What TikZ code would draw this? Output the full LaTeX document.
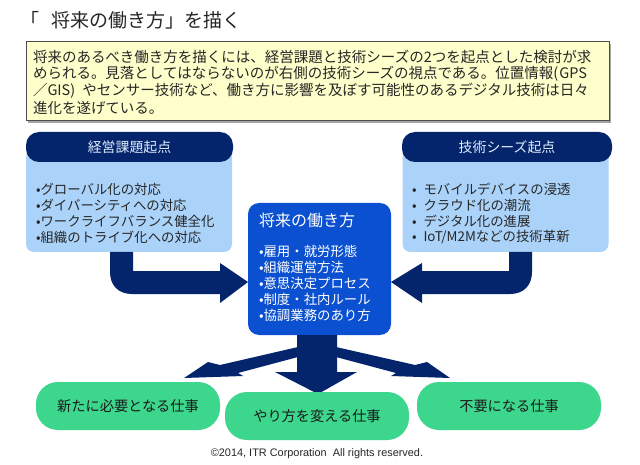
\documentclass[tikz,border=0pt]{standalone}
\usepackage{fontspec}
\setmainfont{Noto Sans CJK JP}
\newfontfamily\latinf{Liberation Sans}
\definecolor{navy}{HTML}{04246C}
\definecolor{lightb}{HTML}{ABD3FA}
\definecolor{midb}{HTML}{0A50D0}
\definecolor{pill}{HTML}{3CD68C}
\definecolor{note}{HTML}{FFFFCC}
\definecolor{ink}{HTML}{262626}
\newcommand{\fs}[1]{\fontsize{#1}{#1}\selectfont}
\tikzset{
  base/.style={inner sep=0pt,outer sep=0pt},
  txt/.style={base,anchor=west,text=ink,font=\fs{13.4}},
  wtxt/.style={txt,text=white},
  lightbox/.style={base,fill=lightb,rounded corners=8pt,minimum width=206pt,minimum height=102pt},
  headbox/.style={base,fill=navy,rounded corners=13pt,minimum height=30pt,text=lightb!40!white,font=\fs{13.9}},
  pillbox/.style={base,fill=pill,rounded corners=22pt,minimum width=184pt,minimum height=48pt,text=ink!70!black,font=\fs{14.2}},
  blockarrow/.style={fill=navy,draw=none},
}
\begin{document}
\begin{tikzpicture}[x=1pt,y=-1pt]
\useasboundingbox (0,0) rectangle (640,465);
\fill[white] (0,0) rectangle (640,465);
% title
\node[base,anchor=west,text=ink,font=\fs{19}] (title) at (20,20) {「\hspace{13pt}将来の働き方」を描く};
% note
\fill[black!35] (28,44) rectangle (611,123);
\node[base,draw=black!70,line width=1pt,fill=note,minimum width=583pt,minimum height=79pt] (note) at (317.5,81.5) {};
\node[txt,font=\fs{14.5}] (n1) at (33,57) {将来のあるべき働き方を描くには、経営課題と技術シーズの2つを起点とした検討が求};
\node[txt,font=\fs{14.5}] (n2) at (33,73.5) {められる。見落としてはならないのが右側の技術シーズの視点である。位置情報(\hspace{1pt}GPS};
\node[txt,font=\fs{14.5}] (n3) at (33,91) {／GIS)\hspace{7pt}やセンサー技術など、働き方に影響を及ぼす可能性のあるデジタル技術は日々};
\node[txt,font=\fs{14.5}] (n4) at (33,108) {進化を遂げている。};
% left and right source boxes
\node[lightbox] (lb) at (129,201) {};
\node[lightbox] (rb) at (505.5,201) {};
\node[headbox,minimum width=207pt] (lh) at (129.5,147) {経営課題起点};
\node[headbox,minimum width=210pt] (rh) at (507,147) {技術シーズ起点};
\node[txt] (l1) at (36,189) {•グローバル化の対応};
\node[txt] (l2) at (36,205) {•ダイバーシティへの対応};
\node[txt] (l3) at (36,221) {•ワークライフバランス健全化};
\node[txt] (l4) at (36,237) {•組織のトライブ化への対応};
\node[txt] (r1) at (412,189) {•\hspace{7pt}モバイルデバイスの浸透};
\node[txt] (r2) at (412,205) {•\hspace{7pt}クラウド化の潮流};
\node[txt] (r3) at (412,221) {•\hspace{7pt}デジタル化の進展};
\node[txt] (r4) at (412,237) {•\hspace{7pt}IoT/M2Mなどの技術革新};
% centre box
\node[base,fill=midb,rounded corners=11pt,minimum width=143pt,minimum height=132pt] (c) at (319.5,269) {};
\node[wtxt,font=\fs{16}] (ct) at (259,220) {将来の働き方};
\node[wtxt] (c1) at (259,251) {•雇用・就労形態};
\node[wtxt] (c2) at (259,267) {•組織運営方法};
\node[wtxt] (c3) at (259,283) {•意思決定プロセス};
\node[wtxt] (c4) at (259,299) {•制度・社内ルール};
\node[wtxt] (c5) at (259,315) {•協調業務のあり方};
% block arrows
\coordinate (ltip) at (c.west|-0,282);
\coordinate (rtip) at (c.east|-0,282);
\fill[blockarrow] (110,252) -- (133,252) -- (133,271) -- (220,271) -- (220,263) -- (ltip) -- (220,303) -- (220,294) -- (132,294) .. controls (118,294) and (110,285) .. (110,272) -- cycle;
\fill[blockarrow] (532,252) -- (509,252) -- (509,271) -- (422,271) -- (422,263) -- (rtip) -- (422,303) -- (422,294) -- (510,294) .. controls (524,294) and (532,285) .. (532,272) -- cycle;
\fill[blockarrow] (297,335) -- (337,335) -- (337,372) -- (357,372) -- (318,394) -- (275,372) -- (297,372) -- cycle;
\fill[blockarrow] (298,347) -- (220,365) -- (208,362) -- (184,378) -- (243,376) -- (238,373) -- (298,357) -- cycle;
\fill[blockarrow] (336,347) -- (415,365) -- (427,362) -- (450,378) -- (391,376) -- (396,373) -- (336,357) -- cycle;
% outcome pills
\node[pillbox] (p1) at (128,406) {新たに必要となる仕事};
\node[pillbox] (p2) at (317,416) {やり方を変える仕事};
\node[pillbox] (p3) at (509,406) {不要になる仕事};
% copyright
\node[base,text=ink,font=\latinf\fs{10.9}] (copy) at (317,454) {©2014, ITR Corporation\ \ All rights reserved.};
\end{tikzpicture}
\end{document}
